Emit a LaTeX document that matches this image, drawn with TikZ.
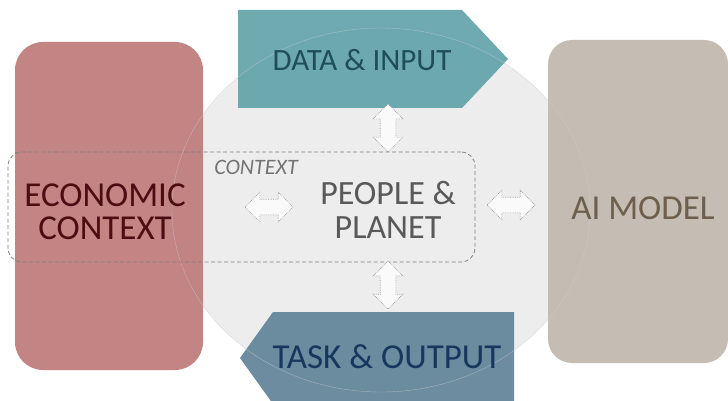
\documentclass[tikz,border=0pt]{standalone}
\usepackage{fontspec}
\setmainfont{Carlito}
\usetikzlibrary{shapes.arrows}

\definecolor{econfill}{HTML}{BF7B7B}
\definecolor{econtext}{HTML}{4A0E12}
\definecolor{modelfill}{HTML}{C1B9AF}
\definecolor{modeltext}{HTML}{6E5E4C}
\definecolor{datafill}{HTML}{63A4AB}
\definecolor{datatext}{HTML}{1F4E56}
\definecolor{taskfill}{HTML}{628499}
\definecolor{tasktext}{HTML}{17375E}
\definecolor{globefill}{HTML}{EDEDED}

\tikzset{
    sidebox/.style={rectangle, rounded corners=28pt, inner sep=0pt, fill opacity=0.93},
    bigtext/.style={font=\fontsize{34}{34}\selectfont, align=center, inner sep=0pt},
    dblarrow/.style={double arrow, draw=black!40, densely dotted, fill=gray!4, line width=0.7pt,
        minimum height=48pt, inner xsep=0pt, inner ysep=7.5pt, double arrow head extend=7pt},
}

\begin{document}
\begin{tikzpicture}[x=1pt,y=-1pt]
            \useasboundingbox[fill=white] (0,0) rectangle (728,401);
            % \draw[help lines, color=gray!30] (0,0) grid[step=50] (728,401);
            \fill[globefill] (381,210) ellipse [x radius=209pt, y radius=182pt];

            \node[sidebox, fill=econfill, minimum width=188pt, minimum height=328pt] (econ) at (109,206) {};
            \node[sidebox, fill=modelfill, minimum width=180pt, minimum height=323pt,
                rounded corners=24pt] (model) at (638,201.5) {};

            \fill[datafill, fill opacity=0.93] (238,10) -- (462,10) -- (508,59) -- (462,108) -- (238,108) -- cycle;
            \fill[taskfill, fill opacity=0.93] (240,358) -- (273,312) -- (514,312) -- (514,404) -- (273,404) -- cycle;

            \draw[gray!40, opacity=0.6] (381,210) ellipse [x radius=209pt, y radius=182pt];

            \node[bigtext, text=econtext, font=\fontsize{35}{33}\selectfont] (econlabel) at (105,212) {ECONOMIC\\CONTEXT};
            \node[bigtext, text=modeltext, font=\fontsize{35}{34}\selectfont] (modellabel) at (643,208) {AI MODEL};
            \node[bigtext, text=datatext, font=\fontsize{31}{34}\selectfont] (data) at (362,60) {DATA \& INPUT};
            \node[bigtext, text=tasktext, font=\fontsize{35}{34}\selectfont] (task) at (387,357) {TASK \& OUTPUT};

            \node[draw=black!50, line width=0.8pt, dash pattern=on 4pt off 2.5pt, rounded corners=14pt,
                minimum width=467pt, minimum height=110pt, inner sep=0pt] (ctx) at (241.5,207) {};
            \node[text=black!55, font=\fontsize{22}{24}\selectfont\itshape, inner sep=0pt] (ctxlabel) at (256,167) {CONTEXT};
            \node[bigtext, text=black!65] (people) at (388,210) {PEOPLE \&\\PLANET};

            \foreach \n/\x/\y/\r in {up/388/128/90, down/388/285/90, left/269/207/0, right/511/205/0}
                \node[dblarrow, rotate=\r] (\n) at (\x,\y) {};
\end{tikzpicture}
\end{document}
